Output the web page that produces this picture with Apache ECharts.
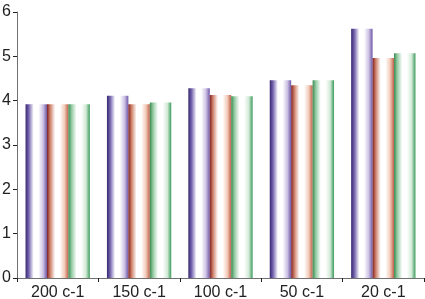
<!DOCTYPE html>
<html>
<head>
<meta charset="utf-8">
<script src="https://cdn.jsdelivr.net/npm/echarts@6/dist/echarts.min.js"></script>
<style>
  html, body { margin: 0; padding: 0; background: #fff; }
  #chart { width: 425px; height: 299px; }
</style>
</head>
<body>
<div id="chart"></div>
<script>
const categories = ['200 c-1', '150 c-1', '100 c-1', '50 c-1', '20 c-1']
const seriesA = [3.92, 4.11, 4.28, 4.46, 5.62]
const seriesB = [3.92, 3.92, 4.13, 4.35, 4.96]
const seriesC = [3.92, 3.96, 4.10, 4.46, 5.07]
const yTicks = [0, 1, 2, 3, 4, 5, 6]

const axisColor = '#707070'
const font = '"Liberation Sans", Arial, sans-serif'

/* cylinder-ish horizontal shading: dark edge -> white -> tinted edge */
function shade (dark, mid, light, edge) {
  return new echarts.graphic.LinearGradient(0, 0, 1, 0, [
    { offset: 0, color: dark },
    { offset: 0.15, color: mid },
    { offset: 0.38, color: '#ffffff' },
    { offset: 0.6, color: '#ffffff' },
    { offset: 0.82, color: light },
    { offset: 1, color: edge }
  ])
}

const chart = echarts.init(document.getElementById('chart'), null, { renderer: 'canvas' })

const barBase = { type: 'bar', barGap: '0%', barCategoryGap: '21%', animation: false }

chart.setOption({
  backgroundColor: '#fff',
  grid: { left: 17, right: 1, top: 12, bottom: 21, containLabel: false, outerBoundsMode: 'none' },
  xAxis: {
    type: 'category',
    data: categories,
    axisLine: { lineStyle: { color: axisColor, width: 1 } },
    axisTick: { show: true, length: 4, inside: false, lineStyle: { color: '#222' } },
    axisLabel: { color: '#222', fontSize: 16, fontFamily: font, margin: 7 }
  },
  yAxis: {
    type: 'value',
    min: yTicks[0],
    max: yTicks[yTicks.length - 1],
    interval: 1,
    axisLine: { show: true, lineStyle: { color: axisColor, width: 1 } },
    axisTick: { show: true, length: 4, lineStyle: { color: '#222' } },
    splitLine: { show: false },
    axisLabel: { color: '#222', fontSize: 16, fontFamily: font, margin: 6 }
  },
  series: [
    Object.assign({}, barBase, {
      data: seriesA,
      itemStyle: { color: shade('#34266e', '#7464ae', '#cdc2e4', '#6e58a8') }
    }),
    Object.assign({}, barBase, {
      data: seriesB,
      itemStyle: { color: shade('#7e2024', '#cf826a', '#f2cab8', '#c0604a') }
    }),
    Object.assign({}, barBase, {
      data: seriesC,
      itemStyle: { color: shade('#3a8a52', '#94cba2', '#d2ead7', '#3d9a5c') }
    })
  ]
})
</script>
</body>
</html>
